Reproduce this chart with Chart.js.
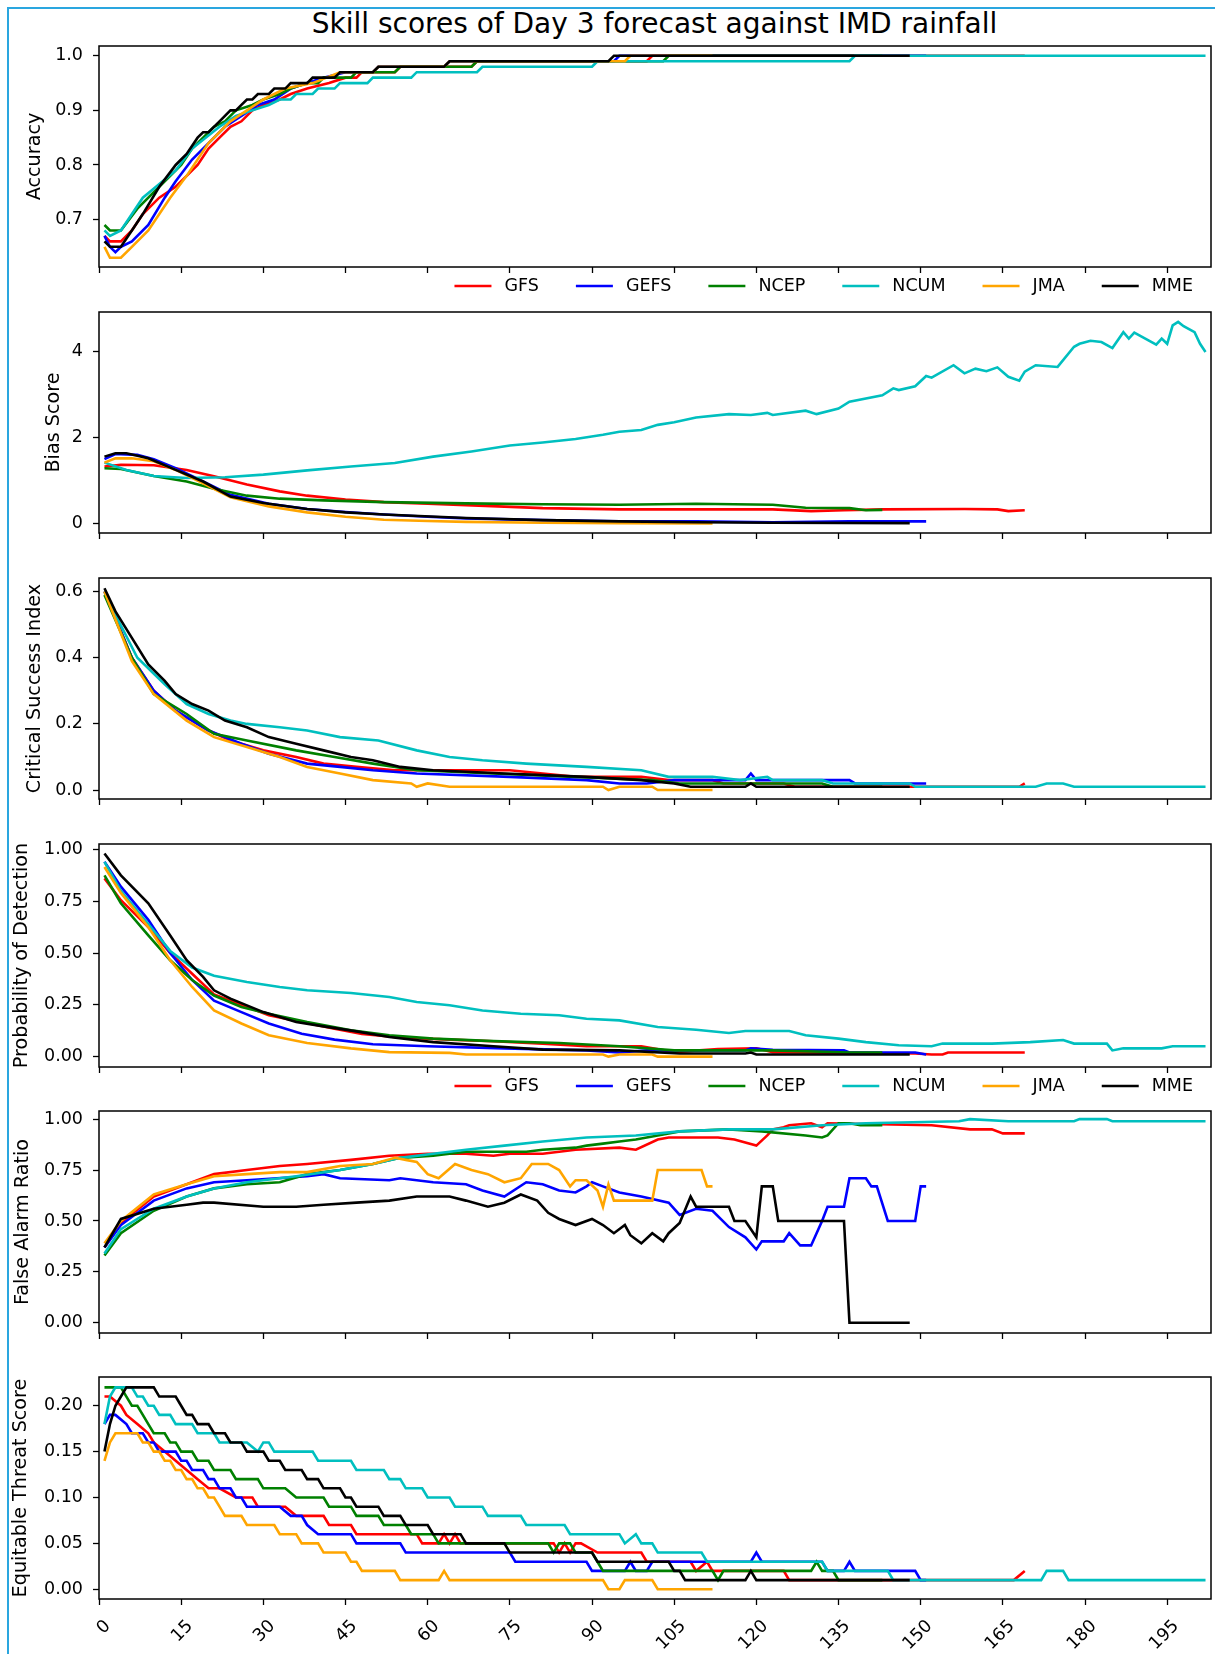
<!DOCTYPE html>
<html>
<head>
<meta charset="utf-8">
<script src="https://cdn.jsdelivr.net/npm/chart.js@4.4.0/dist/chart.umd.min.js"></script>
<style>
  body { margin: 0; background: #fff; }
  #hoja { position: relative; width: 1215px; height: 1654px; overflow: hidden; background: #fff; }
  #marco { position: absolute; left: 7px; top: 7px; width: 1300px; height: 1700px; border-left: 2px solid #2aa6df; border-top: 2px solid #2aa6df; }
  #titulo { position: absolute; left: 0; top: 10px; width: 1309px; text-align: center; font: 28px/28px "DejaVu Sans", sans-serif; color: #000; white-space: nowrap; }
  canvas { position: absolute; left: 0; }
</style>
</head>
<body>
<div id="hoja">
  <div id="marco"></div>
  <div id="titulo">Skill scores of Day 3 forecast against IMD rainfall</div>
  <canvas id="c1"></canvas>
  <canvas id="c2"></canvas>
  <canvas id="c3"></canvas>
  <canvas id="c4"></canvas>
  <canvas id="c5"></canvas>
  <canvas id="c6"></canvas>
</div>
<script>
//------------------------------------------------- DATOS -----------------------------------------------------
const modelos = ['GFS', 'GEFS', 'NCEP', 'NCUM', 'JMA', 'MME']
const colores = ['#ff0000', '#0000ff', '#008000', '#00bfbf', '#ffa500', '#000000']
const ticksX = [0, 15, 30, 45, 60, 75, 90, 105, 120, 135, 150, 165, 180, 195]

// Accuracy
const ticksAcc = [0.7, 0.8, 0.9, 1.0]
const accGFS = [[1,0.67],[2,0.66],[4,0.66],[6,0.68],[8,0.71],[11,0.74],[14,0.76],[16,0.78],[18,0.80],[20,0.83],[22,0.85],[24,0.87],[26,0.88],[28,0.90],[30,0.91],[33,0.92],[35,0.93],[38,0.94],[42,0.95],[45,0.96],[47,0.96],[48,0.97],[54,0.97],[55,0.98],[68,0.98],[69,0.99],[100,0.99],[101,1.0],[169,1.0]]
const accGEFS = [[1,0.67],[2,0.65],[3,0.64],[4,0.65],[6,0.66],[9,0.69],[12,0.74],[14,0.77],[17,0.81],[20,0.84],[23,0.87],[26,0.89],[29,0.91],[32,0.92],[35,0.94],[38,0.95],[41,0.96],[45,0.97],[50,0.97],[51,0.98],[63,0.98],[64,0.99],[94,0.99],[95,1.0],[151,1.0]]
const accNCEP = [[1,0.69],[2,0.68],[4,0.68],[7,0.72],[11,0.76],[15,0.80],[17,0.83],[21,0.87],[23,0.88],[25,0.90],[28,0.91],[30,0.92],[33,0.93],[35,0.94],[38,0.95],[40,0.95],[41,0.96],[46,0.96],[47,0.97],[54,0.97],[55,0.98],[68,0.98],[69,0.99],[103,0.99],[104,1.0],[143,1.0]]
const accNCUM = [[1,0.68],[2,0.67],[4,0.68],[8,0.74],[14,0.79],[17,0.83],[22,0.87],[25,0.89],[28,0.90],[31,0.91],[33,0.92],[35,0.92],[36,0.93],[39,0.93],[40,0.94],[43,0.94],[44,0.95],[49,0.95],[50,0.96],[57,0.96],[58,0.97],[69,0.97],[70,0.98],[90,0.98],[91,0.99],[137,0.99],[138,1.0],[202,1.0]]
const accJMA = [[1,0.65],[2,0.63],[4,0.63],[6,0.65],[9,0.68],[13,0.74],[16,0.78],[20,0.84],[24,0.88],[27,0.90],[30,0.92],[34,0.94],[39,0.95],[44,0.97],[50,0.97],[51,0.98],[63,0.98],[64,0.99],[96,0.99],[97,1.0],[112,1.0]]
const accMME = [[1,0.66],[2,0.65],[4,0.65],[6,0.68],[8,0.71],[11,0.76],[14,0.80],[16,0.82],[18,0.85],[19,0.86],[20,0.86],[22,0.88],[24,0.90],[25,0.90],[26,0.91],[27,0.92],[28,0.92],[29,0.93],[31,0.93],[32,0.94],[34,0.94],[35,0.95],[38,0.95],[39,0.96],[43,0.96],[44,0.97],[50,0.97],[51,0.98],[63,0.98],[64,0.99],[93,0.99],[94,1.0],[148,1.0]]

// Bias Score
const ticksBias = [0, 2, 4]
const biasGFS = [[1,1.33],[4,1.37],[10,1.36],[16,1.25],[21,1.10],[27,0.91],[33,0.75],[38,0.65],[45,0.56],[52,0.50],[60,0.46],[67,0.43],[81,0.36],[95,0.33],[110,0.33],[123,0.33],[130,0.29],[136,0.31],[143,0.33],[158,0.34],[164,0.33],[166,0.29],[169,0.31]]
const biasGEFS = [[1,1.50],[3,1.62],[7,1.60],[10,1.50],[14,1.29],[19,0.98],[24,0.67],[31,0.46],[38,0.34],[45,0.27],[52,0.21],[60,0.16],[67,0.12],[81,0.08],[95,0.05],[109,0.05],[123,0.03],[137,0.05],[151,0.05]]
const biasNCEP = [[1,1.29],[4,1.27],[10,1.11],[16,0.98],[21,0.81],[27,0.65],[33,0.58],[41,0.54],[52,0.50],[67,0.47],[81,0.45],[95,0.44],[109,0.46],[123,0.44],[129,0.37],[137,0.36],[140,0.31],[143,0.32]]
const biasNCUM = [[1,1.42],[5,1.25],[10,1.11],[16,1.06],[23,1.08],[30,1.14],[38,1.24],[46,1.33],[54,1.41],[61,1.56],[68,1.68],[75,1.82],[81,1.89],[87,1.97],[92,2.07],[95,2.14],[99,2.18],[102,2.30],[105,2.36],[109,2.47],[115,2.55],[119,2.53],[122,2.58],[123,2.53],[129,2.63],[131,2.55],[135,2.68],[137,2.84],[143,2.99],[145,3.15],[146,3.11],[149,3.20],[151,3.44],[152,3.40],[156,3.69],[158,3.50],[160,3.61],[162,3.55],[164,3.64],[166,3.42],[168,3.33],[169,3.54],[171,3.69],[175,3.65],[178,4.12],[179,4.19],[181,4.26],[183,4.23],[185,4.09],[187,4.46],[188,4.31],[189,4.45],[191,4.31],[193,4.17],[194,4.31],[195,4.19],[196,4.62],[197,4.70],[198,4.60],[200,4.46],[201,4.19],[202,4.00]]
const biasJMA = [[1,1.42],[3,1.52],[6,1.52],[10,1.45],[14,1.25],[19,0.94],[24,0.61],[31,0.40],[38,0.26],[45,0.16],[52,0.09],[60,0.06],[67,0.04],[81,0.02],[95,0.01],[112,0.0]]
const biasMME = [[1,1.56],[3,1.64],[5,1.64],[9,1.52],[14,1.25],[19,0.98],[24,0.63],[30,0.48],[38,0.34],[45,0.26],[52,0.21],[67,0.13],[81,0.08],[95,0.05],[109,0.03],[123,0.02],[148,0.01]]

// Critical Success Index
const ticksCSI = [0, 0.2, 0.4, 0.6]
const csiGFS = [[1,0.60],[6,0.40],[10,0.30],[14,0.24],[20,0.18],[24,0.15],[30,0.12],[36,0.10],[41,0.08],[47,0.07],[54,0.06],[75,0.06],[81,0.05],[87,0.04],[99,0.04],[104,0.03],[112,0.03],[114,0.02],[125,0.02],[127,0.01],[168,0.01],[169,0.02]]
const csiGEFS = [[1,0.60],[6,0.40],[10,0.30],[14,0.24],[20,0.18],[26,0.14],[31,0.11],[38,0.08],[44,0.07],[50,0.06],[58,0.05],[75,0.04],[89,0.03],[95,0.02],[100,0.02],[105,0.03],[118,0.03],[119,0.05],[120,0.03],[137,0.03],[138,0.02],[151,0.02]]
const csiNCEP = [[1,0.59],[6,0.40],[10,0.29],[16,0.23],[21,0.17],[27,0.15],[36,0.12],[43,0.10],[50,0.08],[58,0.06],[72,0.05],[87,0.04],[101,0.03],[106,0.02],[132,0.02],[134,0.01],[143,0.01]]
const csiNCUM = [[1,0.60],[3,0.53],[7,0.40],[12,0.32],[16,0.26],[20,0.23],[24,0.21],[27,0.20],[33,0.19],[38,0.18],[44,0.16],[51,0.15],[58,0.12],[64,0.10],[70,0.09],[78,0.08],[89,0.07],[99,0.06],[104,0.04],[112,0.04],[117,0.03],[122,0.04],[123,0.03],[132,0.03],[134,0.02],[148,0.02],[149,0.01],[171,0.01],[173,0.02],[176,0.02],[178,0.01],[202,0.01]]
const csiJMA = [[1,0.60],[6,0.39],[10,0.29],[16,0.21],[21,0.16],[27,0.13],[33,0.10],[38,0.07],[44,0.05],[50,0.03],[57,0.02],[58,0.01],[60,0.02],[64,0.01],[92,0.01],[93,0.0],[95,0.01],[101,0.01],[102,0.0],[112,0.0]]
const csiMME = [[1,0.61],[3,0.54],[6,0.46],[9,0.38],[12,0.33],[14,0.29],[17,0.26],[20,0.24],[23,0.21],[27,0.19],[31,0.16],[36,0.14],[41,0.12],[46,0.10],[50,0.09],[55,0.07],[61,0.06],[74,0.05],[89,0.04],[99,0.03],[105,0.02],[108,0.01],[118,0.01],[119,0.02],[120,0.01],[148,0.01]]

// Probability of Detection
const ticksPOD = [0, 0.25, 0.5, 0.75, 1.0]
const podGFS = [[1,0.86],[4,0.755],[9,0.625],[13,0.50],[17,0.40],[21,0.30],[26,0.25],[31,0.20],[37,0.167],[43,0.135],[48,0.11],[55,0.092],[64,0.082],[72,0.074],[81,0.063],[89,0.05],[99,0.05],[105,0.022],[113,0.037],[120,0.04],[123,0.022],[149,0.015],[152,0.01],[154,0.01],[155,0.02],[169,0.02]]
const podGEFS = [[1,0.94],[4,0.82],[9,0.66],[13,0.50],[17,0.37],[21,0.27],[26,0.215],[31,0.16],[37,0.11],[43,0.082],[50,0.06],[60,0.05],[74,0.04],[89,0.03],[95,0.02],[100,0.03],[118,0.03],[119,0.04],[123,0.033],[136,0.03],[137,0.02],[149,0.02],[151,0.01]]
const podNCEP = [[1,0.875],[4,0.74],[9,0.585],[13,0.465],[17,0.37],[21,0.295],[26,0.24],[31,0.207],[38,0.167],[46,0.127],[53,0.103],[61,0.087],[72,0.075],[84,0.066],[95,0.05],[105,0.03],[123,0.03],[137,0.02],[143,0.02]]
const podNCUM = [[1,0.94],[4,0.80],[9,0.64],[13,0.51],[17,0.43],[21,0.39],[27,0.36],[33,0.336],[38,0.32],[46,0.307],[53,0.288],[58,0.264],[64,0.248],[70,0.223],[77,0.207],[84,0.20],[89,0.183],[95,0.175],[102,0.143],[109,0.13],[115,0.114],[118,0.124],[126,0.124],[129,0.103],[135,0.087],[140,0.07],[146,0.055],[152,0.05],[154,0.063],[163,0.063],[170,0.07],[176,0.08],[178,0.063],[184,0.063],[185,0.03],[187,0.04],[194,0.04],[196,0.05],[202,0.05]]
const podJMA = [[1,0.915],[4,0.79],[9,0.625],[13,0.465],[17,0.336],[21,0.223],[26,0.16],[31,0.103],[38,0.066],[46,0.04],[53,0.022],[64,0.018],[67,0.01],[92,0.01],[93,0.0],[95,0.01],[101,0.01],[102,0.0],[112,0.0]]
const podMME = [[1,0.98],[4,0.875],[9,0.74],[13,0.585],[16,0.465],[19,0.385],[21,0.32],[24,0.28],[30,0.215],[36,0.167],[41,0.146],[47,0.122],[53,0.095],[61,0.07],[72,0.05],[81,0.034],[95,0.03],[106,0.015],[118,0.015],[119,0.02],[120,0.01],[148,0.01]]

// False Alarm Ratio
const ticksFAR = [0, 0.25, 0.5, 0.75, 1.0]
const farGFS = [[1,0.37],[4,0.49],[10,0.62],[16,0.68],[21,0.73],[27,0.75],[33,0.77],[38,0.78],[46,0.80],[53,0.82],[60,0.83],[67,0.83],[72,0.82],[75,0.83],[81,0.83],[87,0.85],[95,0.86],[98,0.85],[102,0.90],[104,0.91],[113,0.91],[116,0.90],[120,0.87],[122,0.92],[123,0.95],[125,0.96],[126,0.97],[130,0.98],[132,0.96],[133,0.98],[152,0.97],[159,0.95],[163,0.95],[165,0.93],[169,0.93]]
const farGEFS = [[1,0.37],[4,0.48],[10,0.60],[16,0.66],[21,0.69],[27,0.70],[38,0.72],[41,0.73],[44,0.71],[53,0.70],[55,0.71],[61,0.69],[67,0.68],[70,0.65],[74,0.62],[78,0.69],[81,0.68],[84,0.65],[87,0.64],[89,0.67],[90,0.69],[92,0.67],[95,0.64],[99,0.62],[104,0.59],[106,0.53],[109,0.56],[112,0.55],[115,0.47],[118,0.42],[120,0.36],[121,0.40],[125,0.40],[126,0.44],[128,0.38],[130,0.38],[132,0.50],[133,0.57],[136,0.57],[137,0.71],[140,0.71],[141,0.67],[142,0.67],[144,0.50],[149,0.50],[150,0.67],[151,0.67]]
const farNCEP = [[1,0.33],[4,0.44],[10,0.55],[16,0.62],[21,0.66],[27,0.68],[33,0.69],[38,0.73],[44,0.75],[50,0.78],[55,0.81],[61,0.82],[67,0.84],[78,0.84],[81,0.85],[87,0.86],[89,0.87],[92,0.88],[95,0.89],[98,0.90],[104,0.93],[106,0.94],[115,0.95],[121,0.94],[129,0.92],[132,0.91],[133,0.92],[135,0.98],[137,0.98],[139,0.97],[143,0.97]]
const farNCUM = [[1,0.34],[4,0.46],[10,0.56],[16,0.62],[21,0.66],[27,0.69],[36,0.72],[44,0.75],[50,0.78],[55,0.81],[61,0.83],[67,0.85],[74,0.87],[81,0.89],[89,0.91],[98,0.92],[106,0.94],[115,0.95],[123,0.95],[132,0.97],[140,0.98],[157,0.99],[159,1.0],[166,0.99],[178,0.99],[179,1.0],[184,1.0],[185,0.99],[202,0.99]]
const farJMA = [[1,0.39],[4,0.50],[10,0.63],[16,0.68],[21,0.72],[27,0.73],[33,0.74],[38,0.74],[44,0.77],[50,0.78],[54,0.81],[56,0.80],[58,0.79],[60,0.73],[62,0.71],[65,0.78],[68,0.75],[71,0.73],[74,0.69],[77,0.71],[79,0.78],[82,0.78],[84,0.75],[86,0.67],[87,0.70],[89,0.70],[91,0.65],[92,0.57],[93,0.68],[94,0.60],[101,0.60],[102,0.75],[110,0.75],[111,0.67],[112,0.67]]
const farMME = [[1,0.37],[4,0.51],[10,0.56],[16,0.58],[19,0.59],[21,0.59],[30,0.57],[36,0.57],[41,0.58],[47,0.59],[53,0.60],[58,0.62],[61,0.62],[64,0.62],[67,0.60],[71,0.57],[74,0.59],[77,0.63],[80,0.60],[82,0.54],[84,0.51],[87,0.48],[90,0.51],[92,0.48],[94,0.44],[96,0.48],[97,0.43],[99,0.39],[101,0.44],[103,0.40],[104,0.44],[106,0.49],[108,0.62],[109,0.57],[115,0.57],[116,0.50],[118,0.50],[120,0.42],[121,0.67],[123,0.67],[124,0.50],[136,0.50],[137,0.0],[148,0.0]]

// Equitable Threat Score
const ticksETS = [0, 0.05, 0.1, 0.15, 0.2]
const etsGFS = [[1,0.21],[2,0.21],[4,0.20],[5,0.19],[7,0.18],[9,0.17],[10,0.16],[12,0.15],[14,0.14],[16,0.13],[18,0.12],[20,0.11],[22,0.11],[25,0.10],[28,0.10],[29,0.09],[34,0.09],[36,0.08],[41,0.08],[42,0.07],[46,0.07],[47,0.06],[58,0.06],[59,0.05],[62,0.05],[63,0.06],[64,0.05],[65,0.06],[66,0.05],[83,0.05],[84,0.04],[85,0.05],[86,0.04],[87,0.05],[88,0.05],[91,0.04],[99,0.04],[100,0.03],[108,0.03],[109,0.02],[111,0.03],[112,0.02],[125,0.02],[126,0.01],[167,0.01],[169,0.02]]
const etsGEFS = [[1,0.18],[2,0.19],[3,0.19],[5,0.18],[6,0.17],[8,0.17],[9,0.16],[10,0.16],[11,0.15],[14,0.15],[15,0.14],[16,0.14],[17,0.13],[19,0.13],[20,0.12],[21,0.12],[22,0.11],[24,0.11],[25,0.10],[26,0.10],[27,0.09],[33,0.09],[35,0.08],[37,0.08],[38,0.07],[40,0.06],[46,0.06],[47,0.05],[55,0.05],[56,0.04],[75,0.04],[76,0.03],[89,0.03],[90,0.02],[96,0.02],[97,0.03],[98,0.02],[100,0.02],[101,0.03],[119,0.03],[120,0.04],[121,0.03],[132,0.03],[133,0.02],[136,0.02],[137,0.03],[138,0.02],[149,0.02],[150,0.01],[151,0.01]]
const etsNCEP = [[1,0.22],[4,0.22],[5,0.21],[6,0.20],[7,0.20],[8,0.19],[9,0.18],[10,0.17],[12,0.17],[13,0.16],[14,0.16],[15,0.15],[17,0.15],[18,0.14],[20,0.14],[21,0.13],[24,0.13],[25,0.12],[29,0.12],[30,0.11],[34,0.11],[36,0.10],[41,0.10],[42,0.09],[46,0.09],[47,0.08],[51,0.08],[52,0.07],[56,0.07],[57,0.06],[61,0.06],[62,0.05],[82,0.05],[83,0.04],[84,0.05],[86,0.05],[87,0.04],[90,0.04],[91,0.03],[92,0.02],[112,0.02],[113,0.01],[114,0.02],[130,0.02],[131,0.03],[132,0.02],[134,0.02],[135,0.01],[143,0.01]]
const etsNCUM = [[1,0.18],[2,0.21],[3,0.22],[6,0.22],[7,0.21],[8,0.21],[9,0.20],[10,0.20],[11,0.19],[13,0.19],[14,0.18],[17,0.18],[18,0.17],[21,0.17],[22,0.16],[27,0.16],[29,0.15],[30,0.16],[31,0.16],[32,0.15],[39,0.15],[40,0.14],[46,0.14],[47,0.13],[52,0.13],[53,0.12],[55,0.12],[56,0.11],[59,0.11],[60,0.10],[64,0.10],[65,0.09],[70,0.09],[71,0.08],[77,0.08],[78,0.07],[85,0.07],[86,0.06],[95,0.06],[96,0.05],[98,0.06],[99,0.05],[101,0.05],[102,0.04],[110,0.04],[111,0.03],[132,0.03],[133,0.02],[144,0.02],[145,0.01],[172,0.01],[173,0.02],[176,0.02],[177,0.01],[202,0.01]]
const etsJMA = [[1,0.14],[2,0.16],[3,0.17],[7,0.17],[8,0.16],[9,0.16],[10,0.15],[11,0.15],[12,0.14],[13,0.14],[14,0.13],[15,0.13],[16,0.12],[17,0.12],[18,0.11],[19,0.11],[20,0.10],[21,0.10],[22,0.09],[23,0.08],[26,0.08],[27,0.07],[32,0.07],[33,0.06],[36,0.06],[37,0.05],[40,0.05],[41,0.04],[45,0.04],[46,0.03],[47,0.03],[48,0.02],[54,0.02],[55,0.01],[62,0.01],[63,0.02],[64,0.01],[92,0.01],[93,0.0],[95,0.0],[96,0.01],[101,0.01],[102,0.0],[112,0.0]]
const etsMME = [[1,0.15],[2,0.18],[3,0.20],[5,0.22],[10,0.22],[11,0.21],[14,0.21],[15,0.20],[16,0.19],[17,0.19],[18,0.18],[20,0.18],[21,0.17],[23,0.17],[24,0.16],[26,0.16],[27,0.15],[30,0.15],[31,0.14],[33,0.14],[34,0.13],[37,0.13],[38,0.12],[40,0.12],[41,0.11],[44,0.11],[45,0.10],[46,0.10],[47,0.09],[51,0.09],[52,0.08],[55,0.08],[56,0.07],[60,0.07],[61,0.06],[66,0.06],[67,0.05],[74,0.05],[75,0.04],[90,0.04],[91,0.03],[104,0.03],[105,0.02],[106,0.02],[107,0.01],[118,0.01],[119,0.02],[120,0.01],[148,0.01]]

//------------------------------------------------- PANELES -----------------------------------------------------
const fuente = '"DejaVu Sans", sans-serif'
Chart.defaults.font.family = fuente
Chart.defaults.font.size = 17.5
Chart.defaults.color = '#000'

const paneles = [
    { id: 'c1', titulo: 'Accuracy', series: [accGFS, accGEFS, accNCEP, accNCUM, accJMA, accMME], min: 0.613, max: 1.018, ticks: ticksAcc, dec: 1, arriba: 46, abajo: 267, ejeX: 40, leyenda: true, sepTitulo: 23.5 },
    { id: 'c2', titulo: 'Bias Score', series: [biasGFS, biasGEFS, biasNCEP, biasNCUM, biasJMA, biasMME], min: -0.22, max: 4.93, ticks: ticksBias, dec: 0, arriba: 312, abajo: 533, ejeX: 10, leyenda: false, sepTitulo: 42.5 },
    { id: 'c3', titulo: 'Critical Success Index', series: [csiGFS, csiGEFS, csiNCEP, csiNCUM, csiJMA, csiMME], min: -0.027, max: 0.641, ticks: ticksCSI, dec: 1, arriba: 578, abajo: 799, ejeX: 10, leyenda: false, sepTitulo: 23.5 },
    { id: 'c4', titulo: 'Probability of Detection', series: [podGFS, podGEFS, podNCEP, podNCUM, podJMA, podMME], min: -0.05, max: 1.026, ticks: ticksPOD, dec: 2, arriba: 844, abajo: 1067, ejeX: 40, leyenda: true, sepTitulo: 10.5 },
    { id: 'c5', titulo: 'False Alarm Ratio', series: [farGFS, farGEFS, farNCEP, farNCUM, farJMA, farMME], min: -0.05, max: 1.04, ticks: ticksFAR, dec: 2, arriba: 1111, abajo: 1333, ejeX: 10, leyenda: false, sepTitulo: 11.5 },
    { id: 'c6', titulo: 'Equitable Threat Score', series: [etsGFS, etsGEFS, etsNCEP, etsNCUM, etsJMA, etsMME], min: -0.0106, max: 0.2313, ticks: ticksETS, dec: 2, arriba: 1377, abajo: 1599, ejeX: 60, leyenda: false, etiquetasX: true, sepTitulo: 9.5 }
]

// marco negro alrededor del area de dibujo (las cuatro espinas)
const marcoPlugin = {
    id: 'marco',
    afterDatasetsDraw(chart) {
        const { ctx, chartArea } = chart
        ctx.save()
        ctx.strokeStyle = '#000'
        ctx.lineWidth = 1.5
        ctx.strokeRect(chartArea.left, chartArea.top, chartArea.right - chartArea.left, chartArea.bottom - chartArea.top)
        ctx.restore()
    }
}

// leyenda en una fila debajo del eje, alineada a la derecha
const leyendaPlugin = {
    id: 'leyenda',
    afterDraw(chart, args, opts) {
        if (!opts.mostrar) return
        const { ctx, chartArea } = chart
        ctx.save()
        ctx.font = '17.5px ' + fuente
        const anchos = modelos.map(m => ctx.measureText(m).width)
        let total = 0
        anchos.forEach((w, i) => { total += 50 + w + (i < anchos.length - 1 ? 37 : 0) })
        let x = chartArea.right - 18 - total
        const y = chartArea.bottom + 19
        ctx.textBaseline = 'middle'
        modelos.forEach((m, i) => {
            ctx.strokeStyle = colores[i]
            ctx.lineWidth = 2.6
            ctx.beginPath()
            ctx.moveTo(x, y)
            ctx.lineTo(x + 37, y)
            ctx.stroke()
            ctx.fillStyle = '#000'
            ctx.fillText(m, x + 50, y)
            x += 50 + anchos[i] + 37
        })
        ctx.restore()
    }
}

function crearPanel(p) {
    const canvas = document.getElementById(p.id)
    const arriba = p.arriba - 10
    canvas.width = 1215
    canvas.height = p.abajo - arriba + p.ejeX
    canvas.style.top = arriba + 'px'

    const datasets = p.series.map((serie, i) => ({
        label: modelos[i],
        data: serie,
        borderColor: colores[i],
        borderWidth: 2.6,
        pointRadius: 0,
        tension: 0,
        fill: false,
        order: modelos.length - i
    }))

    return new Chart(canvas.getContext('2d'), {
        type: 'line',
        data: { datasets },
        plugins: [marcoPlugin, leyendaPlugin],
        options: {
            responsive: false,
            animation: false,
            events: [],
            layout: { padding: { top: 10, right: 4, bottom: 0, left: 0 } },
            plugins: { legend: { display: false }, tooltip: { enabled: false }, leyenda: { mostrar: p.leyenda } },
            scales: {
                x: {
                    type: 'linear',
                    min: 0,
                    max: 203,
                    border: { display: false },
                    grid: { drawOnChartArea: false, drawTicks: true, tickLength: 6, tickColor: '#000', tickWidth: 1.3 },
                    afterBuildTicks: s => { s.ticks = ticksX.map(v => ({ value: v })) },
                    afterFit: s => { s.height = p.ejeX; s.paddingLeft = 0; s.paddingRight = 0 },
                    ticks: {
                        display: !!p.etiquetasX,
                        autoSkip: false,
                        minRotation: 45,
                        maxRotation: 45,
                        padding: 11,
                        labelOffset: 9,
                        color: '#000',
                        callback: v => String(v)
                    }
                },
                y: {
                    type: 'linear',
                    min: p.min,
                    max: p.max,
                    border: { display: false },
                    grid: { drawOnChartArea: false, drawTicks: true, tickLength: 6, tickColor: '#000', tickWidth: 1.3 },
                    afterBuildTicks: s => { s.ticks = p.ticks.map(v => ({ value: v })) },
                    afterFit: s => { s.width = 99; s.paddingTop = 0; s.paddingBottom = 0 },
                    ticks: { padding: 10, color: '#000', callback: v => Number(v).toFixed(p.dec) },
                    title: { display: true, text: p.titulo, color: '#000', font: { size: 19.2 }, padding: { top: p.sepTitulo, bottom: 0 } }
                }
            }
        }
    })
}

paneles.forEach(p => crearPanel(p))
</script>
</body>
</html>
